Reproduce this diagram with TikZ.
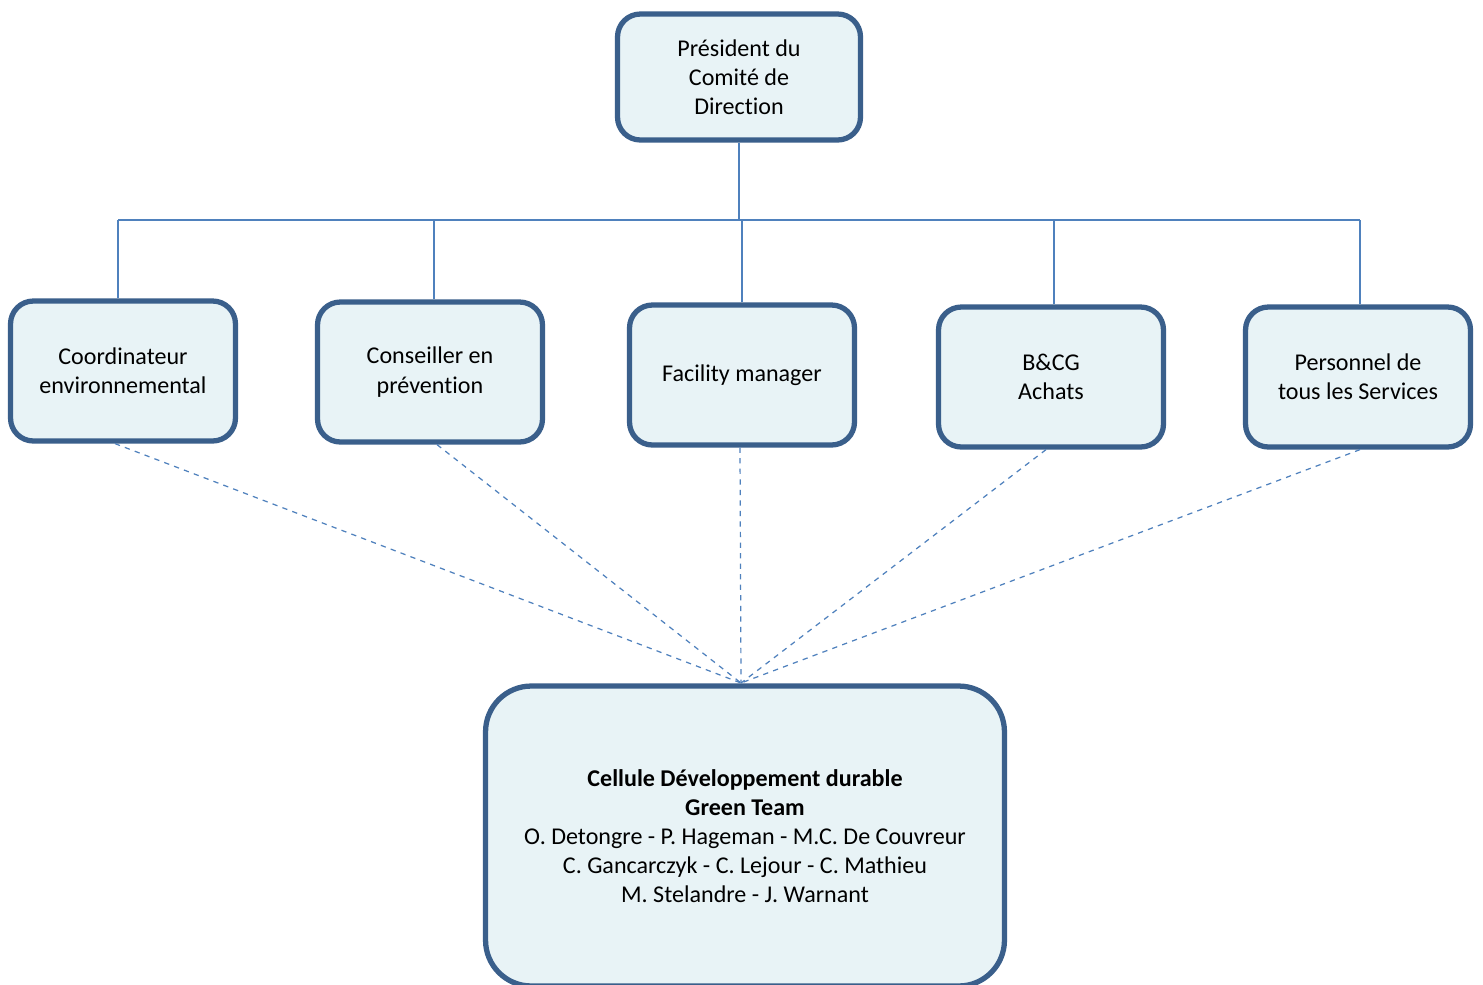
\documentclass[tikz,border=0pt]{standalone}
\usepackage{fontspec}
\setmainfont{Carlito}[Ligatures=NoCommon]
\usepackage{xcolor}
\usepackage{tikz}
\usetikzlibrary{positioning}

\definecolor{boxline}{RGB}{58,95,139}
\definecolor{boxfill}{RGB}{232,243,246}
\definecolor{linkblue}{RGB}{79,129,189}

\begin{document}
\begin{tikzpicture}[x=0.02cm, y=-0.02cm,
    box/.style={draw=boxline, line width=3pt, fill=boxfill, rounded corners=13pt,
        align=center, minimum width=4.5cm, minimum height=2.8cm, inner sep=2pt,
        font=\fontsize{13.7}{16.6}\selectfont},
    link/.style={draw=linkblue, line width=0.8pt},
    dashlink/.style={draw=linkblue, dashed, line width=0.7pt}]
    \useasboundingbox (0,0) rectangle (1483,984);
    \fill[white] (0,0) rectangle (1483,984);

    % head of the chart
    \node[box, minimum width=4.86cm, minimum height=2.52cm] (pres) at (739,77)
        {Président du\\Comité de\\Direction};

    % second row
    \foreach \x/\y/\n/\t in {123/371/coord/{Coordinateur\\environnemental},
                             430/372/prev/{Conseiller en\\prévention},
                             742/375/facil/{Facility manager},
                             1051/377/achat/{B\&CG\\Achats},
                             1358/377/pers/{Personnel de\\tous les Services}} {
        \node[box] (\n) at (\x,\y) {\t};
    }

    % the team
    \node[box, minimum width=10.38cm, minimum height=6cm, rounded corners=26pt] (team) at (745,836)
        {\textbf{Cellule Développement durable}\\\textbf{Green Team}\\
         O. Detongre - P. Hageman - M.C. De Couvreur\\
         C. Gancarczyk - C. Lejour - C. Mathieu\\
         M. Stelandre - J. Warnant};

    % solid links
    \coordinate (busL) at (118,220);
    \coordinate (busR) at (1360,220);
    \draw[link] (busL) -- (busR);
    \draw[link] (pres.south) -- (pres.south |- busL);
    \foreach \n/\dx in {coord/-5, prev/4, facil/0, achat/3, pers/2} {
        \draw[link] ([xshift=\dx*0.02cm]\n.north) -- ([xshift=\dx*0.02cm]\n.north |- busL);
    }

    % dashed links
    \coordinate (meet) at (741,683);
    \foreach \n/\dx in {coord/-8, prev/7, facil/-2, achat/-5, pers/2} {
        \draw[dashlink] ([xshift=\dx*0.02cm]\n.south) -- (meet);
    }
\end{tikzpicture}
\end{document}
